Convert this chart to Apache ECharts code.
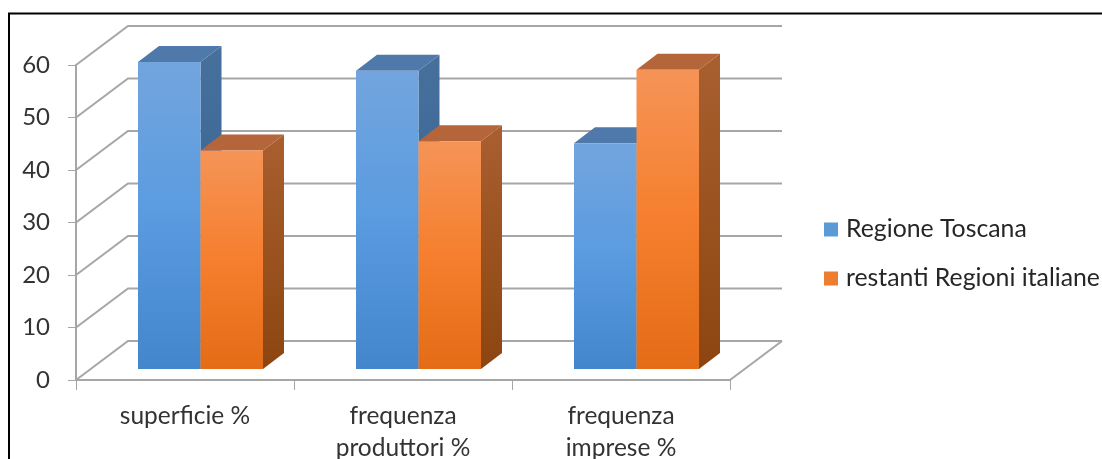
<!DOCTYPE html>
<html><head><meta charset="utf-8">
<script src="https://cdn.jsdelivr.net/npm/echarts@6/dist/echarts.min.js"></script>
<style>html,body{margin:0;padding:0;background:#fff}#c{width:1102px;height:459px}</style>
</head><body><div id="c"></div>
<script>
const categories = ['superficie %', 'frequenza\nproduttori %', 'frequenza\nimprese %'];
const seriesNames = ['Regione Toscana', 'restanti Regioni italiane'];
const toscana = [58.5, 56.8, 43];
const restanti = [41.6, 43.4, 57];
const ticks = [0, 10, 20, 30, 40, 50, 60];

const WALL_DX = 52, WALL_DY = -39, BAR_SHIFT_X = 15.5, BAR_SHIFT_Y = -11, BAR_W = 62.5, BAR_DX = 21, BAR_DY = -16;
const grad = (stops) => new echarts.graphic.LinearGradient(0, 0, 0, 1, stops.map((c, i) => ({offset: i / (stops.length - 1), color: c})));
const palette = [
  {front: ['#72a5de', '#5a9be0', '#4386cb'], side: ['#47709c', '#2f5f92'], top: '#4f79aa', legend: '#5b9bd5'},
  {front: ['#f59457', '#f57f2e', '#e46c17'], side: ['#a95f30', '#8c4510'], top: '#b5653a', legend: '#ed7d31'}
];

function barRenderer(idx) {
  return function (params, api) {
    const p = palette[idx];
    const base = api.coord([api.value(0), 0]);
    const top = api.coord([api.value(0), api.value(1)]);
    const x0 = base[0] + BAR_SHIFT_X + (idx - 1) * BAR_W;
    const x1 = x0 + BAR_W;
    const yb = base[1] + BAR_SHIFT_Y, yt = top[1] + BAR_SHIFT_Y;
    return {type: 'group', children: [
      {type: 'polygon', shape: {points: [[x1, yt], [x1 + BAR_DX, yt + BAR_DY], [x1 + BAR_DX, yb + BAR_DY], [x1, yb]]}, style: {fill: grad(p.side)}},
      {type: 'polygon', shape: {points: [[x0, yt], [x0 + BAR_DX, yt + BAR_DY], [x1 + BAR_DX, yt + BAR_DY], [x1, yt]]}, style: {fill: p.top}},
      {type: 'rect', shape: {x: x0, y: yt, width: BAR_W, height: yb - yt}, style: {fill: grad(p.front)}}
    ]};
  };
}
function wallRenderer(params, api) {
  const v = api.value(0);
  const a = api.coord([0, v]);
  const cs = params.coordSys;
  const xl = cs.x, xr = cs.x + cs.width;
  const y = a[1];
  const ls = {stroke: '#a6a6a6', lineWidth: 2, fill: 'none'};
  const pts = [[xl, y], [xl + WALL_DX, y + WALL_DY], [xr + WALL_DX, y + WALL_DY]];
  const kids = [{type: 'polyline', shape: {points: pts}, style: ls}];
  if (v === 0) kids.push({type: 'line', shape: {x1: xr, y1: y, x2: xr + WALL_DX, y2: y + WALL_DY}, style: ls});
  return {type: 'group', children: kids};
}

const chart = echarts.init(document.getElementById('c'), null, {renderer: 'canvas'});
chart.setOption({
  animation: false,
  backgroundColor: '#fff',
  textStyle: {fontFamily: 'Lato'},
  grid: {left: 76, top: 65, width: 654, height: 315, containLabel: false, outerBoundsMode: 'none'},
  legend: {
    data: seriesNames.map((n, i) => ({name: n, itemStyle: {color: palette[i].legend}})),
    orient: 'vertical', left: 819, top: 212, itemWidth: 14, itemHeight: 14, itemGap: 24,
    icon: 'rect', textStyle: {fontSize: 24.8, color: '#262626', fontFamily: 'Lato', padding: [0, 0, 0, 3]}
  },
  xAxis: {type: 'category', data: categories,
    axisLine: {lineStyle: {color: '#a6a6a6', width: 2}},
    axisTick: {show: true, length: 10, lineStyle: {color: '#a6a6a6', width: 1}},
    axisLabel: {fontSize: 24.5, color: '#333', margin: 20, lineHeight: 32, fontFamily: 'Lato'}},
  yAxis: {type: 'value', min: 0, max: 60, interval: 10,
    axisLine: {show: true, lineStyle: {color: '#a6a6a6', width: 2}},
    axisTick: {show: true, length: 8, lineStyle: {color: '#a6a6a6', width: 1}},
    splitLine: {show: false},
    axisLabel: {fontSize: 24, color: '#333', margin: 26, padding: [4, 0, 0, 0], fontFamily: 'Lato'}},
  series: [
    {type: 'custom', name: 'walls', data: ticks.map(t => [t]), encode: {y: 0}, renderItem: wallRenderer, silent: true, z: 1},
    {type: 'custom', name: seriesNames[0], data: toscana.map((v, i) => [i, v]), encode: {x: 0, y: 1}, renderItem: barRenderer(0), z: 2, itemStyle: {color: palette[0].legend}},
    {type: 'custom', name: seriesNames[1], data: restanti.map((v, i) => [i, v]), encode: {x: 0, y: 1}, renderItem: barRenderer(1), z: 3, itemStyle: {color: palette[1].legend}}
  ],
  graphic: [{type: 'rect', shape: {x: 9, y: 13.5, width: 1200, height: 600}, style: {fill: 'none', stroke: '#000', lineWidth: 2}, z: 10, silent: true}]
});
</script></body></html>
